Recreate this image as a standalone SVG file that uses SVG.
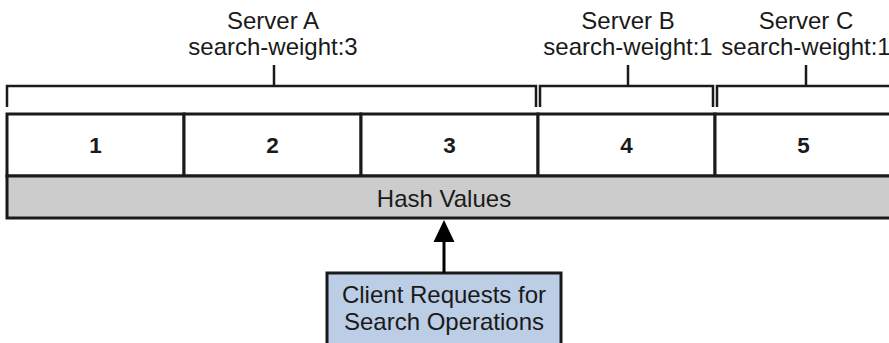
<svg xmlns="http://www.w3.org/2000/svg" width="889" height="343" viewBox="0 0 889 343">
<style>
.t{font-family:"Liberation Sans",Arial,Helvetica,sans-serif;font-size:24px;fill:#1a1a1a;text-anchor:middle}
.d{font-family:"Liberation Sans",Arial,Helvetica,sans-serif;font-size:22.5px;font-weight:bold;fill:#1a1a1a;text-anchor:middle}
.cell{fill:#ffffff;stroke:#1a1a1a;stroke-width:3}
.br{fill:none;stroke:#1a1a1a;stroke-width:2.5}
</style>
<rect width="889" height="343" fill="#ffffff"/>
<g id="bracket-a">
<path class="br" d="M7,107 V86 H536 V107 M274,86 V65"/>
<text class="t" x="273" y="29">Server A</text>
<text class="t" x="273" y="55">search-weight:3</text>
</g>
<g id="bracket-b">
<path class="br" d="M540,107 V86 H713 V107 M628,86 V65"/>
<text class="t" x="628" y="29">Server B</text>
<text class="t" x="628" y="55">search-weight:1</text>
</g>
<g id="bracket-c">
<path class="br" d="M717,107 V86 H895 M806,86 V65"/>
<text class="t" x="806" y="29">Server C</text>
<text class="t" x="806" y="55">search-weight:1</text>
</g>
<g id="cell-1"><rect class="cell" x="7" y="114" width="177" height="62"/><text class="d" x="95.5" y="153">1</text></g>
<g id="cell-2"><rect class="cell" x="184" y="114" width="177" height="62"/><text class="d" x="272.5" y="153">2</text></g>
<g id="cell-3"><rect class="cell" x="361" y="114" width="177" height="62"/><text class="d" x="449.5" y="153">3</text></g>
<g id="cell-4"><rect class="cell" x="538" y="114" width="177" height="62"/><text class="d" x="626.5" y="153">4</text></g>
<g id="cell-5"><rect class="cell" x="715" y="114" width="177" height="62"/><text class="d" x="803.5" y="153">5</text></g>
<g id="hash-values">
<rect x="7" y="176" width="885" height="42" fill="#cccccc" stroke="#1a1a1a" stroke-width="3"/>
<text class="t" x="444" y="207">Hash Values</text>
</g>
<g id="client">
<rect x="327" y="273" width="234" height="80" fill="#bccde6" stroke="#1a1a1a" stroke-width="3"/>
<text class="t" x="444" y="303">Client Requests for</text>
<text class="t" x="444" y="330">Search Operations</text>
</g>
<g id="connectors">
<line x1="444" y1="273" x2="444" y2="242" stroke="#000" stroke-width="3"/>
<path d="M444,220 L454.5,242 L433.5,242 Z" fill="#000"/>
</g>
</svg>
